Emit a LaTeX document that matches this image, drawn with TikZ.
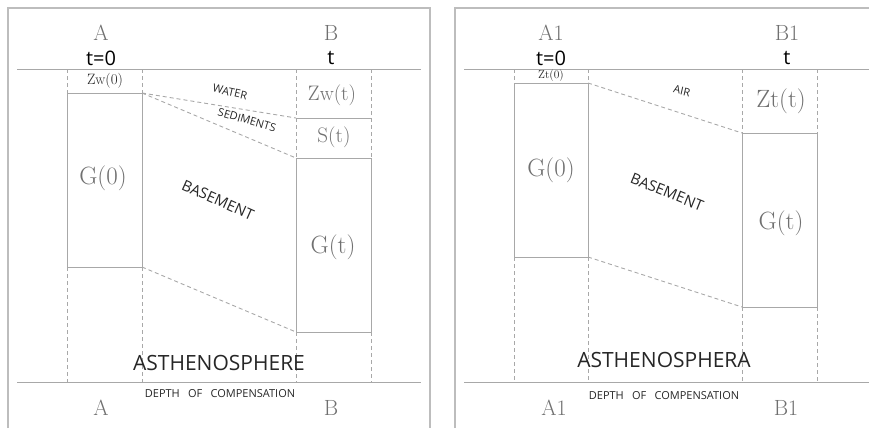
\documentclass[tikz,border=0pt]{standalone}
\usepackage{fontspec}
\newfontfamily\osans{Open Sans}
\newfontfamily\osanswide[WordSpace=1.7]{Open Sans}
\definecolor{lgray}{HTML}{A8A8A8}
\definecolor{fgray}{HTML}{BDBDBD}
\definecolor{tgray}{HTML}{707070}
\definecolor{dtext}{HTML}{262626}
\begin{document}
\begin{tikzpicture}[x=1pt,y=-1pt,
  frame/.style={draw=fgray, line width=1.4pt},
  ln/.style={draw=lgray, line width=0.9pt},
  dl/.style={draw=lgray, line width=0.9pt, dash pattern=on 4pt off 3pt},
  bigser/.style={inner sep=0pt, text=tgray, font=\fontsize{22}{24}\selectfont},
  gser/.style={inner sep=0pt, text=tgray, font=\fontsize{25}{27}\selectfont},
  midser/.style={inner sep=0pt, text=tgray, font=\fontsize{21}{23}\selectfont},
  smser/.style={inner sep=0pt, text=dtext, font=\fontsize{15}{17}\selectfont},
  tinyser/.style={inner sep=0pt, text=dtext, font=\fontsize{11.5}{13}\selectfont},
  tlab/.style={inner sep=0pt, text=black, font=\osans\fontsize{20}{22}\selectfont},
  slab/.style={inner sep=0pt, text=dtext, font=\osans\fontsize{11}{13}\selectfont},
  blab/.style={inner sep=0pt, text=dtext, font=\osans\fontsize{15}{17}\selectfont},
  astlab/.style={inner sep=0pt, text=dtext, font=\osans\fontsize{21}{23}\selectfont},
  deplab/.style={inner sep=0pt, text=dtext, font=\osanswide\fontsize{11}{13}\selectfont}
]
\useasboundingbox (0,0) rectangle (869,428);
% frames
\draw[frame] (8,428) -- (8,8) -- (430,8) -- (430,428);
\draw[frame] (455,428) -- (455,8) -- (869,8);

% ===== left panel =====
\coordinate (LT1) at (17,69);  \coordinate (LT2) at (421,69);
\coordinate (LB1) at (17,382); \coordinate (LB2) at (421,382);
\draw[ln] (LT1) -- (LT2);
\draw[ln] (LB1) -- (LB2);
% column A
\coordinate (a1t) at (67,69);  \coordinate (a2t) at (142,69);
\coordinate (a1z) at (67,93);  \coordinate (a2z) at (142,93);
\coordinate (a1g) at (67,267); \coordinate (a2g) at (142,267);
\coordinate (a1b) at (67,382); \coordinate (a2b) at (142,382);
\draw[dl] (a1t) -- (a1z); \draw[dl] (a2t) -- (a2z);
\draw[ln] (a1z) rectangle (a2g);
\draw[dl] (a1g) -- (a1b); \draw[dl] (a2g) -- (a2b);
% column B
\coordinate (b1t) at (296,69);  \coordinate (b2t) at (371,69);
\coordinate (b1w) at (296,118); \coordinate (b2w) at (371,118);
\coordinate (b1s) at (296,158); \coordinate (b2s) at (371,158);
\coordinate (b1g) at (296,332); \coordinate (b2g) at (371,332);
\coordinate (b1b) at (296,382); \coordinate (b2b) at (371,382);
\draw[dl] (b1t) -- (b1s); \draw[dl] (b2t) -- (b2s);
\draw[ln] (b1w) -- (b2w);
\draw[ln] (b1s) rectangle (b2g);
\draw[dl] (b1g) -- (b1b); \draw[dl] (b2g) -- (b2b);
% oblique
\draw[dl] (a2z) -- (b1w);
\draw[dl] (a2z) -- (b1s);
\draw[dl] (a2g) -- (b1g);
% labels
\node[bigser] (lA) at (101,33) {A};
\node[tlab] (lt0) at (101,58) {t=0};
\node[bigser] (lB) at (331,33) {B};
\node[tlab] (lt) at (331,58) {t};
\node[smser] (lzw0) at (105,81) {Zw(0)};
\node[midser] (lzwt) at (332,95) {Zw(t)};
\node[midser] (lst) at (334,137) {S(t)};
\node[gser] (lg0) at (103,178) {G(0)};
\node[gser] (lgt) at (333,247) {G(t)};
\node[slab, rotate=-13] (lwat) at (230,92) {WATER};
\node[slab, rotate=-16] (lsed) at (247,120) {SEDIMENTS};
\node[blab, rotate=-24] (lbas) at (218,200) {BASEMENT};
\node[astlab] (last) at (219,363) {ASTHENOSPHERE};
\node[deplab] (ldep) at (220,394) {DEPTH OF COMPENSATION};
\node[bigser] (lAb) at (101,408) {A};
\node[bigser] (lBb) at (331,408) {B};

% ===== right panel =====
\coordinate (RT1) at (464,69);  \coordinate (RT2) at (869,69);
\coordinate (RB1) at (464,382); \coordinate (RB2) at (869,382);
\draw[ln] (RT1) -- (RT2);
\draw[ln] (RB1) -- (RB2);
% column A1
\coordinate (c1t) at (514,69);  \coordinate (c2t) at (588,69);
\coordinate (c1z) at (514,83);  \coordinate (c2z) at (588,83);
\coordinate (c1g) at (514,257); \coordinate (c2g) at (588,257);
\coordinate (c1b) at (514,382); \coordinate (c2b) at (588,382);
\draw[dl] (c1t) -- (c1z); \draw[dl] (c2t) -- (c2z);
\draw[ln] (c1z) rectangle (c2g);
\draw[dl] (c1g) -- (c1b); \draw[dl] (c2g) -- (c2b);
% column B1
\coordinate (d1t) at (742,69);  \coordinate (d2t) at (817,69);
\coordinate (d1z) at (742,133); \coordinate (d2z) at (817,133);
\coordinate (d1g) at (742,307); \coordinate (d2g) at (817,307);
\coordinate (d1b) at (742,382); \coordinate (d2b) at (817,382);
\draw[dl] (d1t) -- (d1z); \draw[dl] (d2t) -- (d2z);
\draw[ln] (d1z) rectangle (d2g);
\draw[dl] (d1g) -- (d1b); \draw[dl] (d2g) -- (d2b);
% oblique
\draw[dl] (c2z) -- (d1z);
\draw[dl] (c2g) -- (d1g);
% labels
\node[bigser] (rA) at (551,33) {A1};
\node[tlab] (rt0) at (551,58) {t=0};
\node[bigser] (rB) at (787,33) {B1};
\node[tlab] (rt) at (787,58) {t};
\node[tinyser] (rzt0) at (551,76) {Zt(0)};
\node[slab, rotate=-13] (rair) at (682,91) {AIR};
\node[gser] (rztt) at (781,101) {Zt(t)};
\node[gser] (rg0) at (551,170) {G(0)};
\node[blab, rotate=-22] (rbas) at (667,192) {BASEMENT};
\node[gser] (rgt) at (781,223) {G(t)};
\node[astlab] (rast) at (664,360) {ASTHENOSPHERA};
\node[deplab] (rdep) at (664,396) {DEPTH OF COMPENSATION};
\node[bigser] (rAb) at (554,408) {A1};
\node[bigser] (rBb) at (786,408) {B1};
\end{tikzpicture}
\end{document}
